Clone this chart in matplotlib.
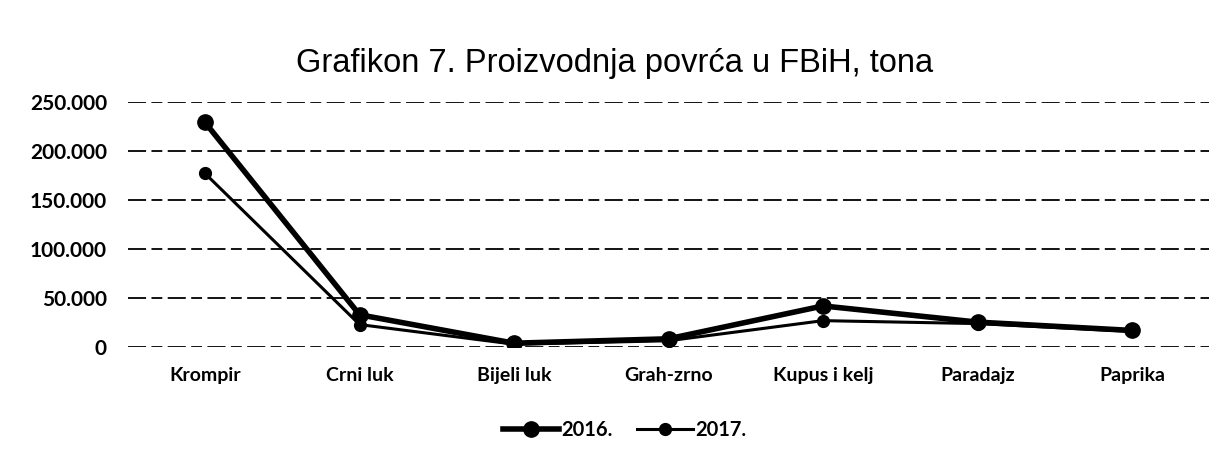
import matplotlib.pyplot as plt

categories = ["Krompir", "Crni luk", "Bijeli luk", "Grah-zrno", "Kupus i kelj", "Paradajz", "Paprika"]
values_2016 = [229000, 33000, 4000, 8500, 42000, 25500, 17000]
values_2017 = [177000, 23000, 3000, 6500, 27000, 24000, 16000]
yticks = [0, 50000, 100000, 150000, 200000, 250000]
ytick_labels = ["0", "50.000", "100.000", "150.000", "200.000", "250.000"]

fig = plt.figure(figsize=(12.29, 4.61), dpi=100)
ax = fig.add_axes([0.104, 0.247, 0.880, 0.532])

x = list(range(len(categories)))
ax.plot(x, values_2016, color='black', lw=4, marker='o', ms=11, label='2016.', zorder=3)
ax.plot(x, values_2017, color='black', lw=2.2, marker='o', ms=8.5, label='2017.', zorder=3)

ax.set_xlim(-0.5, 6.5)
ax.set_ylim(0, 250000)
ax.set_yticks(yticks)
ax.set_yticklabels(ytick_labels, fontsize=15, fontweight='bold', family='Lato')
ax.set_xticks(x)
ax.set_xticklabels(categories, fontsize=14, fontweight='bold', family='Lato')
ax.tick_params(axis='x', length=0, pad=14)
ax.tick_params(axis='y', length=0, pad=15)
# isprekidane linije mreze
for y in yticks:
    ax.axhline(y, color='black', lw=1.3, dashes=(10, 3, 6, 3), zorder=1)
for s in ax.spines.values():
    s.set_visible(False)

fig.text(0.5, 0.862, "Grafikon 7. Proizvodnja povrća u FBiH, tona", ha='center', va='center',
         fontsize=23.5, family='Liberation Sans')
fig.legend(loc='center', bbox_to_anchor=(0.508, 0.067), ncol=2, frameon=False,
           prop={'family': 'Lato', 'weight': 'bold', 'size': 14.5},
           handlelength=2.8, handletextpad=0.1, columnspacing=1.2)

fig.savefig('out.png', dpi=100)
